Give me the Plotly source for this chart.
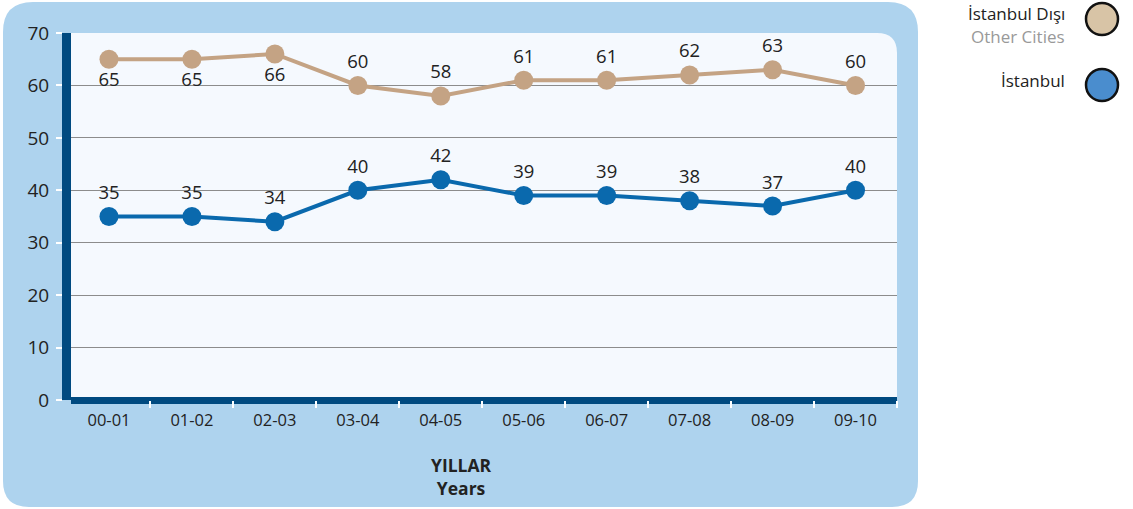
import plotly.graph_objects as go

years = ["00-01", "01-02", "02-03", "03-04", "04-05", "05-06", "06-07", "07-08", "08-09", "09-10"]
other_cities = [65, 65, 66, 60, 58, 61, 61, 62, 63, 60]
istanbul = [35, 35, 34, 40, 42, 39, 39, 38, 37, 40]
other_label_pos = ["bottom center"] * 3 + ["top center"] * 7
y_ticks = [0, 10, 20, 30, 40, 50, 60, 70]

W, H = 1133, 509
L, R, T, B = 71, 897, 33, 400
PW, PH = R - L, B - T
CAT_W = 82.9
X0 = -0.5 + (L - 67.5) / CAT_W

def px(x):
    return (x - L) / PW

def py(y):
    return (B - y) / PH

def rrect(x0, y0, x1, y1, rtl, rtr, rbr, rbl):
    p = f"M {px(x0 + rtl)} {py(y0)} L {px(x1 - rtr)} {py(y0)} "
    p += f"Q {px(x1)} {py(y0)} {px(x1)} {py(y0 + rtr)} "
    p += f"L {px(x1)} {py(y1 - rbr)} Q {px(x1)} {py(y1)} {px(x1 - rbr)} {py(y1)} "
    p += f"L {px(x0 + rbl)} {py(y1)} Q {px(x0)} {py(y1)} {px(x0)} {py(y1 - rbl)} "
    p += f"L {px(x0)} {py(y0 + rtl)} Q {px(x0)} {py(y0)} {px(x0 + rtl)} {py(y0)} Z"
    return p

FONT = "Open Sans"
TAN = "#C4A384"
BLUE = "#0A69AD"
NAVY = "#004A80"

fig = go.Figure()
fig.add_trace(go.Scatter(
    x=years, y=other_cities, mode="lines+markers+text",
    line=dict(color=TAN, width=4), marker=dict(color=TAN, size=19),
    text=[str(v) for v in other_cities], textposition=other_label_pos,
    textfont=dict(family=FONT, size=18.5, color="#222"), cliponaxis=False,
    showlegend=False, hoverinfo="skip"))
fig.add_trace(go.Scatter(
    x=years, y=istanbul, mode="lines+markers+text",
    line=dict(color=BLUE, width=4), marker=dict(color=BLUE, size=19),
    text=[str(v) for v in istanbul], textposition="top center",
    textfont=dict(family=FONT, size=18.5, color="#222"), cliponaxis=False,
    showlegend=False, hoverinfo="skip"))

shapes = [
    dict(type="path", xref="paper", yref="paper", layer="below",
         path=rrect(3, 2, 918, 507, 30, 30, 26, 26),
         fillcolor="#AED3EE", line=dict(width=0)),
    dict(type="path", xref="paper", yref="paper", layer="below",
         path=rrect(70, 33, 897, 400, 0, 20, 0, 0),
         fillcolor="#F5F9FE", line=dict(width=0)),
    dict(type="circle", xref="paper", yref="paper",
         x0=px(1102 - 16), x1=px(1102 + 16), y0=py(19 + 16), y1=py(19 - 16),
         fillcolor="#D8C4A6", line=dict(color="#111", width=2.5)),
    dict(type="circle", xref="paper", yref="paper",
         x0=px(1102 - 16), x1=px(1102 + 16), y0=py(85 + 16), y1=py(85 - 16),
         fillcolor="#4A8DCE", line=dict(color="#111", width=2.5)),
]

annotations = [
    dict(xref="paper", yref="paper", x=px(461), y=py(476), yanchor="middle", showarrow=False,
         text="<b>YILLAR</b><br><b>Years</b>", align="center",
         font=dict(family=FONT, size=17.5, color="#222")),
    dict(xref="paper", yref="paper", x=px(1067), y=py(13), xanchor="right", yanchor="middle",
         showarrow=False, text="İstanbul Dışı", font=dict(family=FONT, size=17, color="#222")),
    dict(xref="paper", yref="paper", x=px(1067), y=py(36), xanchor="right", yanchor="middle",
         showarrow=False, text="Other Cities", font=dict(family=FONT, size=17, color="#999")),
    dict(xref="paper", yref="paper", x=px(1067), y=py(80), xanchor="right", yanchor="middle",
         showarrow=False, text="İstanbul", font=dict(family=FONT, size=17, color="#222")),
]

fig.update_layout(
    width=W, height=H,
    margin=dict(l=L, r=W - R, t=T, b=H - B, autoexpand=False),
    paper_bgcolor="white", plot_bgcolor="rgba(0,0,0,0)",
    shapes=shapes, annotations=annotations,
    xaxis=dict(type="category", range=[X0, 9.5], showgrid=False, showline=False,
               ticks="outside", tickson="boundaries", tickcolor="white", ticklen=7, tickwidth=1.5,
               ticklabelstandoff=8,
               tickfont=dict(family=FONT, size=16.5, color="#222"), zeroline=False),
    yaxis=dict(range=[0, 70], tickvals=y_ticks, showgrid=True, gridcolor="#8C8C8C", gridwidth=1,
               showline=True, linecolor=NAVY, linewidth=9,
               zeroline=True, zerolinecolor=NAVY, zerolinewidth=7,
               ticks="outside", tickcolor="white", ticklen=6, tickwidth=1.5,
               ticklabelstandoff=3,
               tickfont=dict(family=FONT, size=19, color="#222")),
)

fig.write_html("out.html", config={"displayModeBar": False},
               post_script="document.body.style.margin='0';")
